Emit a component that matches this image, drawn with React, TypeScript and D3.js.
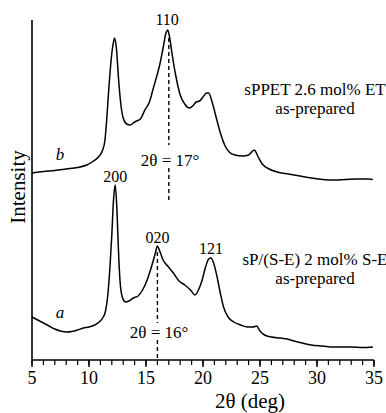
import { useMemo } from 'react';
import * as d3 from 'd3';

// diffraction angle (2θ, deg) and intensity (arb. units)
const thetaB = [5.0, 6.0, 7.0, 8.0, 9.0, 9.8, 10.4, 10.9, 11.2, 11.4, 11.55, 11.7, 11.9, 12.1, 12.25, 12.4, 12.6, 12.8, 13.0, 13.3, 13.6, 14.0, 14.5, 14.9, 15.3, 15.6, 15.9, 16.2, 16.5, 16.75, 16.9, 17.05, 17.3, 17.6, 18.0, 18.4, 18.8, 19.1, 19.4, 19.7, 20.0, 20.3, 20.5, 20.8, 21.1, 21.5, 21.9, 22.3, 22.8, 23.5, 24.0, 24.5, 24.8, 25.2, 25.8, 26.5, 27.5, 28.5, 29.5, 30.5, 31.5, 32.5, 33.5, 34.5, 34.9];
const intensityB = [187, 188.5, 189.5, 191, 192.5, 195, 199, 204, 210, 220, 240, 265, 295, 315, 322, 312, 280, 255, 242, 236, 235, 238, 241, 250, 258, 270, 282, 295, 312, 327, 330, 324, 305, 285, 265, 256, 252, 254, 258, 259, 263, 267, 267, 258, 245, 228, 215, 208, 205, 204, 205, 210, 204, 196, 191, 188, 186, 184, 182, 180.5, 180, 180.5, 181, 181, 180.5];

const thetaA = [5.0, 5.5, 6.0, 6.5, 7.0, 7.5, 8.0, 8.5, 9.0, 9.5, 10.0, 10.5, 10.9, 11.2, 11.45, 11.65, 11.85, 12.0, 12.15, 12.3, 12.45, 12.6, 12.75, 12.95, 13.2, 13.5, 13.9, 14.3, 14.7, 15.1, 15.5, 15.8, 16.0, 16.2, 16.5, 16.9, 17.4, 17.9, 18.4, 18.9, 19.3, 19.6, 19.9, 20.2, 20.5, 20.7, 20.9, 21.2, 21.5, 21.8, 22.2, 22.7, 23.3, 23.9, 24.4, 24.7, 25.0, 25.4, 26.0, 26.8, 27.4, 28.0, 28.7, 29.5, 30.5, 31.5, 33.0, 34.0, 34.9];
const intensityA = [43, 40, 37, 34, 31, 29, 28, 28.5, 30, 32, 33, 35, 38, 42, 49, 65, 95, 125, 160, 175, 150, 105, 75, 62, 58, 59, 62, 64, 70, 80, 94, 106, 114, 109, 100, 94, 87, 79, 75, 70, 65, 70, 79, 92, 101, 102, 98, 85, 68, 53, 43, 38, 35, 33, 33, 34, 29, 25, 23, 22, 21, 19, 17, 15, 14, 13, 13, 12.5, 13];

const majorTicks = [5, 10, 15, 20, 25, 30, 35];
const minorTicks = d3.range(5, 36, 1);

// reflections: label, 2θ, intensity at label baseline
const peakLabelsB = [{ text: '110', theta: 16.85, level: 335 }];
const peakLabelsA = [
  { text: '200', theta: 12.3, level: 178 },
  { text: '020', theta: 16.0, level: 117 },
  { text: '121', theta: 20.7, level: 106 },
];
const markerB = { theta: 17, text: '2θ = 17°' };
const markerA = { theta: 16, text: '2θ = 16°' };
const sampleB = ['sPPET 2.6 mol% ET', 'as-prepared'];
const sampleA = ['sP/(S-E) 2 mol% S-E', 'as-prepared'];

const W = 386;
const H = 413;
const FONT = '"Liberation Serif", "Times New Roman", serif';

export default function App() {
  const x = d3.scaleLinear().domain([5, 35]).range([32, 374]);
  const y = d3.scaleLinear().domain([0, 340]).range([360, 20]);

  const line = d3
    .line<[number, number]>()
    .x((d) => x(d[0]))
    .y((d) => y(d[1]))
    .curve(d3.curveMonotoneX);

  const pathB = useMemo(() => line(thetaB.map((t, i) => [t, intensityB[i]] as [number, number])), []);
  const pathA = useMemo(() => line(thetaA.map((t, i) => [t, intensityA[i]] as [number, number])), []);

  const dash = { stroke: '#000', strokeWidth: 1.4, strokeDasharray: '4,3' };

  return (
    <svg width={W} height={H} style={{ position: 'absolute', left: 0, top: 0, background: '#fff' }} fontFamily={FONT}>
      {/* axes */}
      <line x1={x(5)} x2={x(5)} y1={y(340)} y2={y(0)} stroke="#000" strokeWidth={1.6} />
      <line x1={x(5)} x2={x(35)} y1={y(0)} y2={y(0)} stroke="#000" strokeWidth={1.6} />
      {minorTicks.map((t) => (
        <line key={'m' + t} x1={x(t)} x2={x(t)} y1={y(0)} y2={y(0) + 5} stroke="#000" strokeWidth={1.2} />
      ))}
      {majorTicks.map((t) => (
        <g key={'M' + t}>
          <line x1={x(t)} x2={x(t)} y1={y(0)} y2={y(0) + 7} stroke="#000" strokeWidth={1.4} />
          <text x={x(t)} y={384} textAnchor="middle" fontSize={18}>{t}</text>
        </g>
      ))}
      <text x={250} y={408} textAnchor="middle" fontSize={21}>2θ (deg)</text>
      <text transform="translate(25,187) rotate(-90)" textAnchor="middle" fontSize={21}>Intensity</text>

      {/* dashed markers */}
      <line x1={x(markerB.theta)} x2={x(markerB.theta)} y1={y(322)} y2={y(215)} {...dash} />
      <line x1={x(markerB.theta)} x2={x(markerB.theta)} y1={y(192)} y2={y(160)} {...dash} />
      <text x={170} y={166} textAnchor="middle" fontSize={17}>{markerB.text}</text>
      <line x1={x(markerA.theta)} x2={x(markerA.theta)} y1={y(108)} y2={y(37)} {...dash} />
      <line x1={x(markerA.theta)} x2={x(markerA.theta)} y1={y(20)} y2={y(0)} {...dash} />
      <text x={159} y={338} textAnchor="middle" fontSize={17}>{markerA.text}</text>

      {/* curves */}
      <path d={pathB ?? ''} fill="none" stroke="#000" strokeWidth={1.5} strokeLinejoin="round" />
      <path d={pathA ?? ''} fill="none" stroke="#000" strokeWidth={1.5} strokeLinejoin="round" />

      {[...peakLabelsB, ...peakLabelsA].map((p) => (
        <text key={p.text} x={x(p.theta)} y={y(p.level)} textAnchor="middle" fontSize={16}>{p.text}</text>
      ))}

      <text x={60} y={160} textAnchor="middle" fontSize={17} fontStyle="italic">b</text>
      <text x={60} y={318} textAnchor="middle" fontSize={17} fontStyle="italic">a</text>

      {sampleB.map((s, i) => (
        <text key={'b' + i} x={315} y={95 + i * 19} textAnchor="middle" fontSize={17}>{s}</text>
      ))}
      {sampleA.map((s, i) => (
        <text key={'a' + i} x={315} y={265 + i * 19} textAnchor="middle" fontSize={17}>{s}</text>
      ))}
    </svg>
  );
}
